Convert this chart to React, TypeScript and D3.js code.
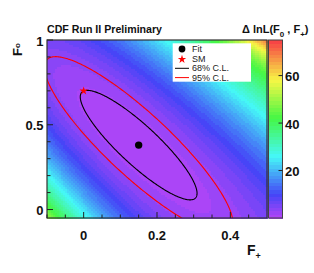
import React from "react";
import * as d3 from "d3";

// ---- data ----
const fitValue = [0.15, 0.38]; // [F+, F0] best fit
const smValue = [0.0, 0.7]; // [F+, F0] Standard Model
const fitSigma = [0.105, 0.213]; // [sigma(F+), sigma(F0)]
const fitCorrelation = [-0.88];
// non-Gaussian shape of the likelihood surface far from the minimum:
// [damping along F+, wall strength, wall position in (F+ + F0 - fit)]
const surfaceShape = [0.9, 260, 0.77];
const clLevels = [1.15, 3.0]; // Delta lnL for 68% and 95% C.L. (2 parameters)
const clColors = ["#000000", "#ff0000"];
const xDomain = [-0.1, 0.5];
const yDomain = [-0.05, 1.0];
const zDomain = [0, 75];
const xTicks = [0, 0.2, 0.4];
const xMinorTicks = [-0.1, -0.05, 0.05, 0.1, 0.15, 0.25, 0.3, 0.35, 0.45];
const yTicks = [0, 0.5, 1];
const yMinorTicks = [0.1, 0.2, 0.3, 0.4, 0.6, 0.7, 0.8, 0.9];
const zTicks = [20, 40, 60];
const legendLabels = ["Fit", "SM", "68% C.L.", "95% C.L."];
const titleText = "CDF Run II Preliminary";
const nBinsX = 110;
const nBinsY = 89;
const nColors = 50;

const FONT = "'Liberation Sans', Arial, Helvetica, sans-serif";

const gaussDelta = (dx: number, dy: number) => {
  const z = dx / fitSigma[0];
  const w = dy / fitSigma[1];
  const r = fitCorrelation[0];
  return (0.5 * (z * z - 2 * r * z * w + w * w)) / (1 - r * r);
};

const deltaLnL = (fp: number, f0: number) => {
  const dx = fp - fitValue[0];
  const dy = f0 - fitValue[1];
  const wall = Math.max(0, dx + dy - surfaceShape[2]);
  return gaussDelta(dx, dy) * Math.exp(-surfaceShape[0] * dx) + surfaceShape[1] * wall * wall;
};

const palette = d3.range(nColors).map((i) => {
  const hue = 280 - ((i + 1) * 280) / nColors;
  return d3.hsl(hue, 0.92, 0.62).formatHex();
});

export default function App() {
  const plot = { left: 47, right: 267, top: 40, bottom: 218 };
  const bar = { left: 268.5, right: 282.5 };
  const x = d3.scaleLinear().domain(xDomain).range([plot.left, plot.right]);
  const y = d3.scaleLinear().domain(yDomain).range([plot.bottom, plot.top]);
  const zc = d3.scaleQuantize<string>().domain(zDomain).range(palette);
  const zy = d3.scaleLinear().domain(zDomain).range([plot.bottom, plot.top]);

  const bx = (xDomain[1] - xDomain[0]) / nBinsX;
  const by = (yDomain[1] - yDomain[0]) / nBinsY;
  const cells: { x0: number; y0: number; c: string }[] = [];
  for (let i = 0; i < nBinsX; i++) {
    for (let j = 0; j < nBinsY; j++) {
      const fp = xDomain[0] + (i + 0.5) * bx;
      const f0 = yDomain[0] + (j + 0.5) * by;
      const v = Math.min(zDomain[1] - 1e-6, deltaLnL(fp, f0));
      cells.push({ x0: xDomain[0] + i * bx, y0: yDomain[0] + (j + 1) * by, c: zc(v) });
    }
  }

  const r = fitCorrelation[0];
  const thetas = d3.range(0, 2 * Math.PI + 0.001, Math.PI / 180);
  const ellipse = (level: number) => {
    const rad = Math.sqrt(2 * level);
    const pts = thetas.map((t) => [
      fitValue[0] + fitSigma[0] * rad * Math.cos(t),
      fitValue[1] + fitSigma[1] * rad * (r * Math.cos(t) + Math.sqrt(1 - r * r) * Math.sin(t)),
    ]);
    return d3
      .line<number[]>()
      .x((d) => x(d[0]))
      .y((d) => y(d[1]))
      .curve(d3.curveLinearClosed)(pts) as string;
  };

  const star = d3.symbol(d3.symbolStar, 22)() as string;
  const barStep = (zDomain[1] - zDomain[0]) / nColors;

  const legX = 172.7;
  const legY = 43.3;
  const rowY = [49, 59.3, 68.3, 77.6];

  return (
    <svg
      width={314}
      height={273}
      style={{ position: "absolute", left: 0, top: 0, background: "#fff" }}
      fontFamily={FONT}
    >
      <defs>
        <clipPath id="plotClip">
          <rect x={plot.left} y={plot.top} width={plot.right - plot.left} height={plot.bottom - plot.top} />
        </clipPath>
      </defs>
      <g shapeRendering="crispEdges">
        {cells.map((d, k) => (
          <rect
            key={k}
            x={x(d.x0)}
            y={y(d.y0)}
            width={x(d.x0 + bx) - x(d.x0) + 0.5}
            height={y(d.y0 - by) - y(d.y0) + 0.5}
            fill={d.c}
          />
        ))}
      </g>
      <g clipPath="url(#plotClip)" fill="none" strokeWidth={1.1}>
        {clLevels.map((lv, i) => (
          <path key={i} d={ellipse(lv)} stroke={clColors[i]} />
        ))}
      </g>
      <circle cx={x(fitValue[0])} cy={y(fitValue[1])} r={3.7} fill="#000" />
      <path d={star} transform={`translate(${x(smValue[0])},${y(smValue[1])})`} fill="#ff0000" />

      {/* frame */}
      <rect
        x={plot.left}
        y={plot.top}
        width={plot.right - plot.left}
        height={plot.bottom - plot.top}
        fill="none"
        stroke="#333"
        strokeWidth={1.2}
      />
      {xTicks.map((t) => (
        <line key={"xt" + t} x1={x(t)} x2={x(t)} y1={plot.bottom} y2={plot.bottom - 6} stroke="#222" />
      ))}
      {xMinorTicks.map((t) => (
        <line key={"xm" + t} x1={x(t)} x2={x(t)} y1={plot.bottom} y2={plot.bottom - 3.5} stroke="#222" />
      ))}
      {yTicks.map((t) => (
        <line key={"yt" + t} x1={plot.left} x2={plot.left + 6} y1={y(t)} y2={y(t)} stroke="#222" />
      ))}
      {yMinorTicks.map((t) => (
        <line key={"ym" + t} x1={plot.left} x2={plot.left + 3.5} y1={y(t)} y2={y(t)} stroke="#222" />
      ))}
      {xTicks.map((t) => (
        <text key={"xl" + t} x={x(t)} y={240} textAnchor="middle" fontSize={13} fontWeight="bold" fill="#111">
          {d3.format("~g")(t)}
        </text>
      ))}
      {yTicks.map((t) => (
        <text
          key={"yl" + t}
          x={43.5}
          y={y(t) + 1}
          textAnchor="end"
          dominantBaseline="central"
          fontSize={13}
          fontWeight="bold"
          fill="#111"
        >
          {d3.format("~g")(t)}
        </text>
      ))}

      {/* color bar */}
      <g shapeRendering="crispEdges">
        {palette.map((c, i) => (
          <rect
            key={"cb" + i}
            x={bar.left}
            width={bar.right - bar.left}
            y={zy(zDomain[0] + (i + 1) * barStep)}
            height={zy(zDomain[0]) - zy(barStep) + 0.5}
            fill={c}
          />
        ))}
      </g>
      <rect
        x={bar.left}
        y={plot.top}
        width={bar.right - bar.left}
        height={plot.bottom - plot.top}
        fill="none"
        stroke="#444"
        strokeWidth={1}
      />
      {zTicks.map((t) => (
        <g key={"zt" + t}>
          <line x1={bar.right - 4} x2={bar.right} y1={zy(t)} y2={zy(t)} stroke="#222" />
          <text x={285} y={zy(t) + 1} dominantBaseline="central" fontSize={13} fontWeight="bold" fill="#111">
            {t}
          </text>
        </g>
      ))}

      {/* legend */}
      <rect x={legX} y={legY} width={78.3} height={38.4} fill="#fff" />
      <circle cx={182} cy={rowY[0]} r={3.4} fill="#000" />
      <path d={star} transform={`translate(182,${rowY[1]})`} fill="#ff0000" />
      <line x1={175} x2={189} y1={rowY[2]} y2={rowY[2]} stroke={clColors[0]} />
      <line x1={175} x2={189} y1={rowY[3]} y2={rowY[3]} stroke={clColors[1]} />
      {legendLabels.map((l, i) => (
        <text key={l} x={192} y={rowY[i]} dominantBaseline="central" fontSize={9} fill="#222">
          {l}
        </text>
      ))}

      {/* titles */}
      <text x={47} y={33} fontSize={11.5} fontWeight="bold" fill="#111" textLength={115} lengthAdjust="spacingAndGlyphs">
        {titleText}
      </text>
      <text x={242} y={33} fontSize={11} fontWeight="bold" fill="#111">
        Δ lnL(F
        <tspan fontSize={8} dy={4}>0</tspan>
        <tspan dy={-4}> , F</tspan>
        <tspan fontSize={8} dy={4}>+</tspan>
        <tspan dy={-4}>)</tspan>
      </text>
      <text x={247} y={255} fontSize={14} fontWeight="bold" fill="#111">
        F<tspan fontSize={9} dy={4}>+</tspan>
      </text>
      <text transform="translate(22,56) rotate(-90)" fontSize={13} fontWeight="bold" fill="#111">
        F<tspan fontSize={8} dy={-2}>o</tspan>
      </text>
    </svg>
  );
}
